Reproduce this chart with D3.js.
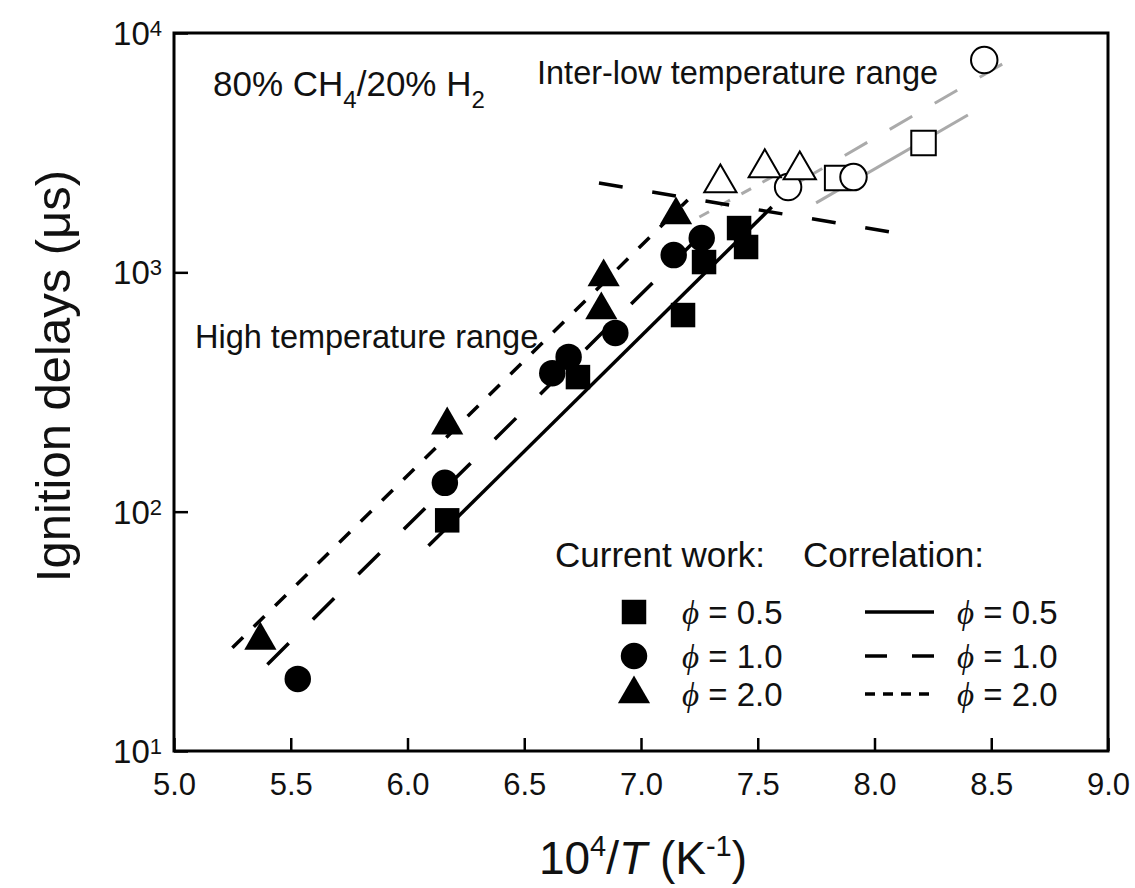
<!DOCTYPE html>
<html>
<head>
<meta charset="utf-8">
<script src="https://cdn.jsdelivr.net/npm/d3@7"></script>
<style>
  body { margin: 0; background: #fff; }
  text { font-family: "Liberation Sans", Arial, sans-serif; fill: #111; }
</style>
</head>
<body>
<div id="chart"></div>
<script>
// values: [10^4/T, ignition delay (us)]
var phi05 = [[6.17, 92], [6.73, 365], [7.18, 663], [7.27, 1104], [7.42, 1531], [7.45, 1276]];
var phi10 = [[5.53, 20], [6.16, 132], [6.62, 379], [6.69, 443], [6.89, 558], [7.14, 1181], [7.26, 1390]];
var phi20 = [[5.37, 29], [6.17, 230], [6.83, 696], [6.84, 956], [7.15, 1736]];
var lowPhi05 = [[7.84, 2478], [8.21, 3468]];
var lowPhi10 = [[7.63, 2272], [7.91, 2500], [8.47, 7713]];
var lowPhi20 = [[7.34, 2361], [7.53, 2729], [7.68, 2676]];

// correlation lines (end points)
var corr05 = [[6.09, 72], [7.56, 1874]];
var corr10 = [[5.40, 23], [7.33, 1686]];
var corr20 = [[5.25, 27], [7.20, 2006]];
var boundary = [[6.82, 2361], [8.13, 1440]];
var lowCorr05 = [[7.75, 1950], [8.40, 4544]];
var lowCorr10 = [[7.68, 2395], [8.60, 7942]];
var lowCorr20 = [[7.25, 1702], [7.60, 2625]];

var xMajor = [5.0, 5.5, 6.0, 6.5, 7.0, 7.5, 8.0, 8.5, 9.0];
var xMinor = [5.25, 5.75, 6.25, 6.75, 7.25, 7.75, 8.25, 8.75];
var yMajor = [10, 100, 1000, 10000];
var yExp = ["1", "2", "3", "4"];

var width = 1135, height = 888;
var plotL = 174, plotT = 33, plotR = 1108, plotB = 751;

var svg = d3.select("#chart").append("svg")
  .attr("width", width)
  .attr("height", height);

var x = d3.scaleLinear().domain([5, 9]).range([plotL, plotR]);
var y = d3.scaleLog().domain([10, 10000]).range([plotB, plotT]);

var line = d3.line()
  .x(function(d) { return x(d[0]); })
  .y(function(d) { return y(d[1]); });

function drawLine(data, color, w, dash) {
  svg.append("path")
    .datum(data)
    .attr("d", line)
    .attr("fill", "none")
    .attr("stroke", color)
    .attr("stroke-width", w)
    .attr("stroke-dasharray", dash);
}
// gray = inter-low temperature correlations
drawLine(lowCorr05, "#aaa", 3, null);
drawLine(lowCorr10, "#aaa", 3, "26,26");
drawLine(lowCorr20, "#aaa", 3, "11,13");

drawLine(corr05, "#000", 3.5, null);
drawLine(corr10, "#000", 3.5, "30,34");
drawLine(corr20, "#000", 3.5, "15,15");
drawLine(boundary, "#000", 3.5, "24,30");

// markers
var sq = d3.symbol().type(d3.symbolSquare).size(600);
var ci = d3.symbol().type(d3.symbolCircle).size(550);
var tr = d3.symbol().type(d3.symbolTriangle).size(450);

function drawPoints(data, sym, filled) {
  svg.append("g").selectAll("path")
    .data(data)
    .enter()
    .append("path")
      .attr("d", sym)
      .attr("transform", function(d) { return "translate(" + x(d[0]) + "," + y(d[1]) + ")"; })
      .attr("fill", filled ? "#000" : "#fff")
      .attr("stroke", "#000")
      .attr("stroke-width", filled ? 0 : 2);
}
drawPoints(lowPhi05, sq, false);
drawPoints(lowPhi10, ci, false);
drawPoints(lowPhi20, tr, false);
drawPoints(phi05, sq, true);
drawPoints(phi10, ci, true);
drawPoints(phi20, tr, true);

// axes, ticks inside
var gx = svg.append("g").attr("transform", "translate(0," + plotB + ")");
gx.call(d3.axisBottom(x).tickValues(xMinor).tickSize(-7).tickFormat(""));
gx.call(d3.axisBottom(x).tickValues(xMajor).tickSize(-13).tickPadding(22).tickFormat(d3.format(".1f")));

var yMinor = y.ticks().filter(function(d) { return yMajor.indexOf(d) < 0; });
var gy = svg.append("g").attr("transform", "translate(" + plotL + ",0)");
gy.call(d3.axisLeft(y).tickValues(yMinor).tickSize(-7).tickFormat(""));
gy.call(d3.axisLeft(y).tickValues(yMajor).tickSize(-14).tickFormat(""));

svg.selectAll(".domain").remove();
svg.selectAll(".tick line").attr("stroke", "#000").attr("stroke-width", 2.5);
gx.attr("font-size", null).attr("font-family", null);
gx.selectAll("text").style("font-size", "31px").attr("fill", "#111");

// y labels 10^n
yMajor.forEach(function(v, i) {
  var t = svg.append("text")
    .attr("x", 162)
    .attr("y", y(v) + 12)
    .attr("text-anchor", "end")
    .style("font-size", "33px");
  t.append("tspan").text("10");
  t.append("tspan").attr("dy", -9).style("font-size", "22px").text(yExp[i]);
});

svg.append("rect")
  .attr("x", plotL).attr("y", plotT)
  .attr("width", plotR - plotL).attr("height", plotB - plotT)
  .attr("fill", "none")
  .attr("stroke", "#000")
  .attr("stroke-width", 3);

// axis titles
var xt = svg.append("text")
  .attr("x", 643).attr("y", 874)
  .attr("text-anchor", "middle")
  .style("font-size", "46px");
xt.append("tspan").text("10");
xt.append("tspan").attr("dy", -18).style("font-size", "29px").text("4");
xt.append("tspan").attr("dy", 18).text("/");
xt.append("tspan").style("font-style", "italic").text("T");
xt.append("tspan").text(" (K");
xt.append("tspan").attr("dy", -18).style("font-size", "29px").text("-1");
xt.append("tspan").attr("dy", 18).text(")");

svg.append("text")
  .attr("transform", "translate(70,376) rotate(-90)")
  .attr("text-anchor", "middle")
  .style("font-size", "49px")
  .text("Ignition delays (\u03bcs)");

// annotations
var mix = svg.append("text")
  .attr("x", 213).attr("y", 96)
  .style("font-size", "35px");
mix.append("tspan").text("80% CH");
mix.append("tspan").attr("dy", 12).style("font-size", "24px").text("4");
mix.append("tspan").attr("dy", -12).text("/20% H");
mix.append("tspan").attr("dy", 12).style("font-size", "24px").text("2");

svg.append("text").attr("x", 537).attr("y", 84)
  .style("font-size", "32.5px").text("Inter-low temperature range");
svg.append("text").attr("x", 195).attr("y", 348)
  .style("font-size", "32.5px").text("High temperature range");

// legend
svg.append("text").attr("x", 555).attr("y", 567)
  .style("font-size", "35px").text("Current work:");
svg.append("text").attr("x", 803).attr("y", 567)
  .style("font-size", "35px").text("Correlation:");

var legendRows = ["0.5", "1.0", "2.0"];
var legendSyms = [sq, ci, tr];
var legendDash = [null, "22,25", "10,8"];
var rowY = [612, 656, 694];

function phiLabel(xp, yp, val) {
  var t = svg.append("text").attr("x", xp).attr("y", yp).style("font-size", "33px");
  t.append("tspan").style("font-family", "'Liberation Serif', serif").style("font-style", "italic").text("\u03d5");
  t.append("tspan").text(" = " + val);
}

legendRows.forEach(function(val, i) {
  svg.append("path")
    .attr("d", legendSyms[i])
    .attr("transform", "translate(634," + rowY[i] + ")")
    .attr("fill", "#000");
  phiLabel(682, rowY[i] + 12, val);
  svg.append("line")
    .attr("x1", 865).attr("x2", 934)
    .attr("y1", rowY[i]).attr("y2", rowY[i])
    .attr("stroke", "#000")
    .attr("stroke-width", 3.5)
    .attr("stroke-dasharray", legendDash[i]);
  phiLabel(957, rowY[i] + 12, val);
});
</script>
</body>
</html>
